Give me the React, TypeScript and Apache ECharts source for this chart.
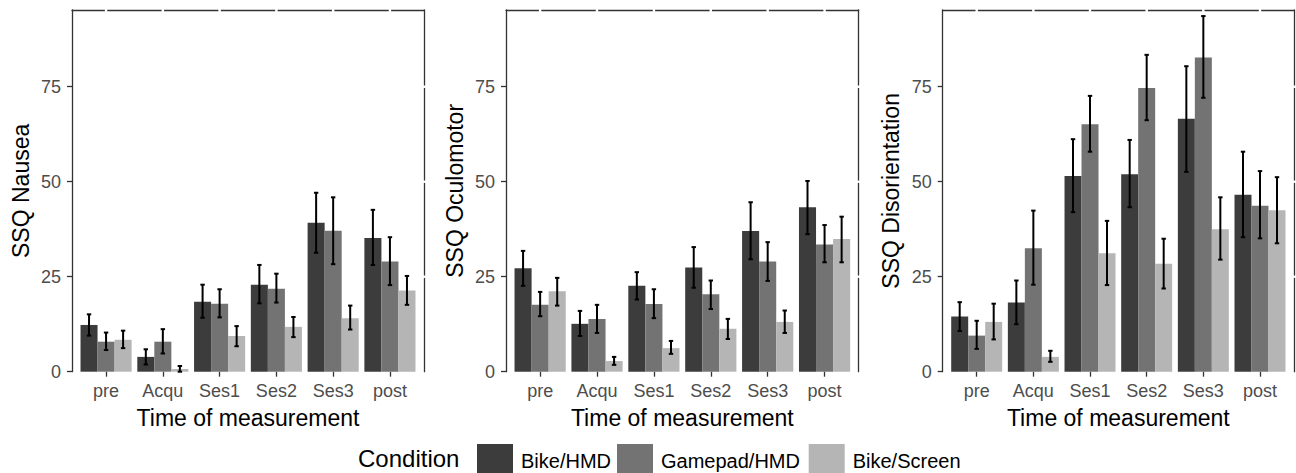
import React, { useEffect, useRef } from "react";
import * as echarts from "echarts";

const categories = ["pre", "Acqu", "Ses1", "Ses2", "Ses3", "post"];
const conditions = ["Bike/HMD", "Gamepad/HMD", "Bike/Screen"];
const conditionColors = ["#3c3c3c", "#737373", "#b5b5b5"];
const yTicks = [0, 25, 50, 75];
const panelTitles = ["SSQ Nausea", "SSQ Oculomotor", "SSQ Disorientation"];

// rows: Bike/HMD, Gamepad/HMD, Bike/Screen
const nauseaMean = [
  [12.3, 3.9, 18.4, 22.9, 39.2, 35.2],
  [7.9, 7.9, 17.9, 21.8, 37.1, 29.0],
  [8.4, 0.7, 9.4, 11.8, 14.1, 21.4],
];
const nauseaLow = [
  [9.5, 1.9, 14.2, 18.0, 31.3, 28.1],
  [5.7, 4.8, 14.3, 18.2, 28.3, 22.8],
  [6.2, 0.0, 6.7, 9.1, 11.1, 17.6],
];
const nauseaHigh = [
  [15.1, 5.9, 22.9, 28.1, 47.1, 42.6],
  [10.3, 11.2, 21.7, 25.8, 45.9, 35.4],
  [10.8, 1.5, 12.0, 14.4, 17.4, 25.2],
];

const oculoMean = [
  [27.2, 12.6, 22.6, 27.4, 37.0, 43.3],
  [17.6, 13.9, 17.8, 20.4, 29.0, 33.5],
  [21.2, 2.8, 6.2, 11.3, 13.1, 34.9],
];
const oculoLow = [
  [22.6, 9.4, 19.0, 22.1, 29.6, 36.2],
  [14.6, 10.2, 14.1, 16.5, 23.9, 28.8],
  [17.4, 1.8, 4.7, 8.6, 10.2, 28.8],
];
const oculoHigh = [
  [31.8, 16.0, 26.2, 32.8, 44.6, 50.2],
  [21.0, 17.6, 21.7, 24.0, 34.1, 38.6],
  [24.7, 3.9, 8.1, 13.9, 16.1, 40.8],
];

const disoMean = [
  [14.5, 18.2, 51.5, 52.0, 66.6, 46.6],
  [9.5, 32.5, 65.1, 74.7, 82.7, 43.7],
  [13.1, 3.9, 31.2, 28.4, 37.5, 42.5],
];
const disoLow = [
  [10.7, 12.5, 42.0, 43.3, 52.6, 35.4],
  [6.0, 22.9, 57.9, 66.2, 72.1, 35.1],
  [8.5, 2.6, 22.8, 21.9, 29.5, 33.8],
];
const disoHigh = [
  [18.3, 24.0, 61.2, 61.0, 80.4, 57.9],
  [13.4, 42.4, 72.6, 83.4, 93.6, 52.8],
  [17.9, 5.5, 39.7, 35.0, 45.9, 51.2],
];

const panels = [
  { mean: nauseaMean, low: nauseaLow, high: nauseaHigh },
  { mean: oculoMean, low: oculoLow, high: oculoHigh },
  { mean: disoMean, low: disoLow, high: disoHigh },
];

const X_MIN = -0.6;
const X_MAX = 5.6;
const Y_MIN = 0;
const Y_MAX = 95.2;
const DODGE = 0.3;

const FONT = "Liberation Sans, Arial, sans-serif";

export default function App() {
  const ref = useRef<HTMLDivElement>(null);

  useEffect(() => {
    if (!ref.current) return;
    const chart = echarts.init(ref.current, null, { renderer: "svg" });

    const grids = [
      { left: 72, top: 10, width: 352, height: 361.7 },
      { left: 506, top: 10, width: 352.7, height: 361.7 },
      { left: 942.7, top: 10, width: 351.3, height: 361.7 },
    ];

    const xAxes: any[] = [];
    const yAxes: any[] = [];
    const series: any[] = [];

    grids.forEach((_, g) => {
      xAxes.push({
        gridIndex: g,
        type: "value",
        position: "bottom",
        min: X_MIN,
        max: X_MAX,
        axisLine: { show: false, onZero: false },
        axisTick: {
          show: true,
          customValues: categories.map((_, i) => i),
          length: 5,
          lineStyle: { color: "#333", width: 1.3 },
        },
        axisLabel: {
          show: true,
          customValues: categories.map((_, i) => i),
          formatter: (v: number) => categories[Math.round(v)] ?? "",
          fontSize: 18,
          color: "#4d4d4d",
          fontFamily: FONT,
          margin: 10,
        },
        splitLine: { show: false },
        name: "Time of measurement",
        nameLocation: "middle",
        nameGap: 35,
        nameTextStyle: { fontSize: 23, color: "#000", fontFamily: FONT },
      });
      xAxes.push({
        gridIndex: g,
        type: "value",
        position: "top",
        min: X_MIN,
        max: X_MAX,
        axisLine: { show: true, onZero: false, lineStyle: { color: "#333", width: 1.3 } },
        axisTick: { show: false },
        axisLabel: { show: false },
        splitLine: { show: false },
      });
      yAxes.push({
        gridIndex: g,
        type: "value",
        position: "left",
        min: Y_MIN,
        max: Y_MAX,
        axisLine: { show: true, onZero: false, lineStyle: { color: "#333", width: 1.3 } },
        axisTick: {
          show: true,
          customValues: yTicks,
          length: 5,
          lineStyle: { color: "#333", width: 1.3 },
        },
        axisLabel: {
          show: true,
          customValues: yTicks,
          fontSize: 18,
          color: "#4d4d4d",
          fontFamily: FONT,
          margin: 11,
        },
        splitLine: { show: false },
        name: panelTitles[g],
        nameLocation: "middle",
        nameGap: 40,
        nameTextStyle: { fontSize: 23, color: "#000", fontFamily: FONT },
      });
      yAxes.push({
        gridIndex: g,
        type: "value",
        position: "right",
        min: Y_MIN,
        max: Y_MAX,
        axisLine: { show: true, onZero: false, lineStyle: { color: "#333", width: 1.3 } },
        axisTick: { show: false },
        axisLabel: { show: false },
        splitLine: { show: false },
      });

      const p = panels[g];
      conditions.forEach((name, k) => {
        const offset = (k - 1) * DODGE;
        series.push({
          type: "custom",
          name,
          xAxisIndex: g * 2,
          yAxisIndex: g * 2,
          itemStyle: { color: conditionColors[k] },
          clip: false,
          silent: true,
          encode: { x: 0, y: 1 },
          data: categories.map((_, i) => [i, p.mean[k][i], p.low[k][i], p.high[k][i]]),
          renderItem: (params: any, api: any) => {
            const i = api.value(0);
            const v = api.value(1);
            const lo = api.value(2);
            const hi = api.value(3);
            const cx = i + offset;
            const p0 = api.coord([cx - DODGE / 2, 0]);
            const p1 = api.coord([cx + DODGE / 2, v]);
            const pc = api.coord([cx, 0]);
            const ph = api.coord([cx, hi]);
            const pl = api.coord([cx, lo]);
            const cap = 2.2;
            const ls = { stroke: "#000", lineWidth: 2 };
            return {
              type: "group",
              children: [
                {
                  type: "rect",
                  shape: { x: p0[0], y: p1[1], width: p1[0] - p0[0], height: p0[1] - p1[1] },
                  style: { fill: conditionColors[k] },
                },
                {
                  type: "line",
                  shape: { x1: pc[0], y1: ph[1], x2: pc[0], y2: pl[1] },
                  style: ls,
                },
                {
                  type: "line",
                  shape: { x1: pc[0] - cap, y1: ph[1], x2: pc[0] + cap, y2: ph[1] },
                  style: ls,
                },
                {
                  type: "line",
                  shape: { x1: pc[0] - cap, y1: pl[1], x2: pc[0] + cap, y2: pl[1] },
                  style: ls,
                },
              ],
            };
          },
        });
      });

      // small white breaks in the panel frame at tick positions
      const gapData: number[][] = [
        ...categories.map((_, i) => [i, Y_MAX, 0]),
        ...yTicks.filter((t) => t > 0).map((t) => [X_MAX, t, 1]),
      ];
      series.push({
        type: "custom",
        name: "frame-gaps",
        xAxisIndex: g * 2,
        yAxisIndex: g * 2,
        clip: false,
        silent: true,
        z: 10,
        encode: { x: 0, y: 1 },
        data: gapData,
        renderItem: (params: any, api: any) => {
          const pt = api.coord([api.value(0), api.value(1)]);
          const kind = api.value(2);
          const shape =
            kind === 0
              ? { x: pt[0] - 1.2, y: pt[1] - 2, width: 2.4, height: 4 }
              : { x: pt[0] - 2, y: pt[1] - 1.2, width: 4, height: 2.4 };
          return { type: "rect", shape, style: { fill: "#fff" } };
        },
      });
    });

    const legendLefts = [477, 617, 808.7];
    const legends = conditions.map((c, k) => ({
      data: [{ name: c, icon: "rect", itemStyle: { color: conditionColors[k] } }],
      left: legendLefts[k],
      top: 444,
      padding: 0,
      itemWidth: 36,
      itemHeight: 34,
      selectedMode: false,
      textStyle: { fontSize: 20, color: "#000", fontFamily: FONT, padding: [0, 0, 0, 3] },
    }));

    chart.setOption({
      animation: false,
      backgroundColor: "#fff",
      grid: grids,
      xAxis: xAxes,
      yAxis: yAxes,
      legend: legends,
      series,
      graphic: [
        {
          type: "text",
          left: 358,
          top: 446,
          style: {
            text: "Condition",
            fontSize: 24,
            fill: "#000",
            fontFamily: FONT,
          },
        },
      ],
    });

    return () => chart.dispose();
  }, []);

  return (
    <div
      ref={ref}
      style={{ position: "fixed", left: 0, top: 0, width: 1296, height: 473 }}
    />
  );
}
